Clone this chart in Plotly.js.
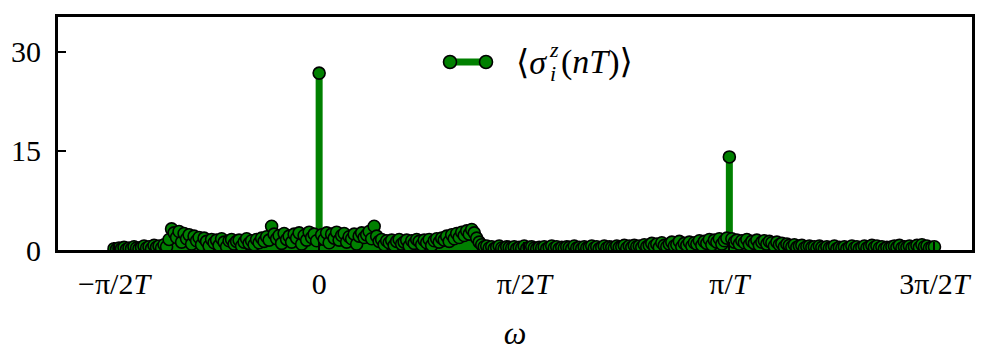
<!DOCTYPE html>
<html>
<head>
<meta charset="utf-8">
<script src="https://cdn.plot.ly/plotly-3.0.1.min.js"></script>
<style>
  html, body { margin: 0; padding: 0; background: #fff; }
  #chart { width: 984px; height: 351px; }
</style>
</head>
<body>
<div id="chart"></div>
<script>
// Fourier spectrum of the stroboscopic magnetisation, sampled on the
// discrete frequency grid omega in [-pi/2T, 3pi/2T] (T = 1).
const omegaMin = -Math.PI / 2;
const omegaMax = 3 * Math.PI / 2;

// Spectral amplitude at each grid frequency (329 bins).
const amplitude = [
  0.2,0.1,0.3,0.2,0.4,0.1,0.3,0.2,0.5,0.3,
  0.2,0.4,0.6,0.3,0.5,0.2,0.7,0.4,0.6,0.3,
  0.8,0.5,1.6,3.2,2.6,1.9,2.8,1.2,2.5,1.7,
  2.3,0.9,2.1,1.4,1.9,0.8,1.8,1.3,0.6,1.6,
  1.1,1.5,0.7,1.7,1.2,0.5,1.4,1.6,0.9,1.3,
  1.5,0.6,1.2,1.7,1.0,1.4,0.8,1.6,1.1,1.8,
  1.3,2.0,1.5,3.6,2.4,1.7,2.2,1.0,2.5,1.6,
  2.1,1.2,2.4,1.8,2.6,0.9,2.2,1.5,2.7,1.9,
  2.4,1.4,26.8,
  2.3,1.6,2.6,1.1,2.4,1.8,2.7,
  1.5,2.2,2.5,1.2,2.0,1.7,2.4,0.9,2.1,2.6,
  1.9,2.3,2.8,1.7,3.6,2.1,1.3,1.6,0.8,1.4,
  1.1,1.5,0.7,1.3,1.6,0.9,1.2,1.5,0.6,1.4,
  1.0,1.6,1.3,0.8,1.5,1.1,1.6,0.7,1.4,1.7,
  1.2,1.8,1.5,2.1,1.3,2.3,1.7,2.5,1.9,2.7,
  2.2,2.9,2.4,3.1,2.6,1.8,1.2,0.8,0.5,0.6,
  0.3,0.5,0.2,0.4,0.6,0.3,0.2,0.5,0.4,0.3,
  0.5,0.2,0.4,0.3,0.6,0.2,0.4,0.5,0.3,0.2,
  0.4,0.3,0.5,0.2,0.4,0.6,0.3,0.5,0.2,0.4,
  0.3,0.5,0.4,0.2,0.6,0.3,0.4,0.2,0.5,0.3,
  0.4,0.6,0.3,0.5,0.2,0.4,0.6,0.3,0.5,0.4,
  0.3,0.6,0.4,0.5,0.7,0.3,0.6,0.4,0.7,0.5,
  0.6,0.4,0.8,0.5,0.7,1.0,0.6,0.9,0.4,1.1,
  0.7,0.5,0.9,1.2,0.6,0.8,1.3,0.5,1.0,0.7,
  1.2,0.6,1.1,0.9,1.4,0.7,1.3,1.0,1.6,0.8,
  1.5,1.2,1.7,0.9,1.4,1.8,
  14.1,
  1.7,1.2,1.5,
  0.9,1.4,1.1,1.6,0.8,1.3,1.0,1.5,0.7,1.2,
  1.4,0.9,1.3,1.1,0.6,1.2,0.8,1.0,0.5,0.9,
  0.7,0.5,0.8,0.4,0.6,0.7,0.3,0.5,0.6,0.4,
  0.5,0.3,0.6,0.4,0.2,0.5,0.3,0.4,0.6,0.2,
  0.4,0.3,0.5,0.2,0.4,0.6,0.3,0.5,0.2,0.4,
  0.6,0.3,0.5,0.7,0.4,0.6,0.3,0.5,0.2,0.4,
  0.3,0.5,0.6,0.4,0.7,0.3,0.5,0.4,0.6,0.3,
  0.5,0.7,0.4,0.8,0.5,0.6,0.3,0.4,0.5
];

const xTickVals = [-Math.PI / 2, 0, Math.PI / 2, Math.PI, 3 * Math.PI / 2];
const xTickText = ['\u2212\u03c0/2<i>T</i>', '0', '\u03c0/2<i>T</i>', '\u03c0/<i>T</i>', '3\u03c0/2<i>T</i>'];
const yTickVals = [0, 15, 30];
// legend label  <sigma_i^z(nT)>, set in pieces so the indices stack
const labelHead = '\u27e8<i>\u03c3</i>';
const labelSup = '<i>z</i>';
const labelSub = '<i>i</i>';
const labelTail = '(<i>nT</i>)\u27e9';

// frequency grid
const step = (omegaMax - omegaMin) / (amplitude.length - 1);
const omega = amplitude.map((_, k) => omegaMin + k * step);

// stems: vertical segments from the baseline to each amplitude
const stemX = [], stemY = [];
omega.forEach((w, k) => { stemX.push(w, w, null); stemY.push(0, amplitude[k], null); });

const green = '#008000';
const serif = '"Liberation Serif", "DejaVu Serif", serif';

const traces = [
  {
    x: stemX, y: stemY, type: 'scatter', mode: 'lines',
    line: { color: green, width: 7 }, hoverinfo: 'skip', showlegend: false
  },
  {
    x: omega, y: amplitude, type: 'scatter', mode: 'markers',
    marker: { color: green, size: 12, line: { color: '#000', width: 1.6 } },
    showlegend: false
  }
];

// pixel helpers for the hand-built legend key
const plotL = 58, plotR = 972, plotT = 17, plotB = 250;
const px = v => (v - plotL) / (plotR - plotL);
const py = v => (plotB - v) / (plotB - plotT);
const keyY = py(62);

function label(text, x, y, size) {
  return { xref: 'paper', yref: 'paper', x: px(x), y: py(y), xanchor: 'left', yanchor: 'middle',
           text: text, showarrow: false, font: { family: serif, size: size } };
}

const layout = {
  width: 984, height: 351,
  margin: { l: plotL, r: 984 - plotR, t: plotT, b: 351 - plotB },
  paper_bgcolor: '#fff', plot_bgcolor: '#fff',
  font: { family: serif, color: '#000', size: 30 },
  showlegend: false,
  xaxis: {
    range: [-2, 5], tickvals: xTickVals, ticktext: xTickText,
    ticks: 'inside', ticklen: 8, tickwidth: 2, tickcolor: '#000',
    showline: true, mirror: true, linewidth: 3, linecolor: '#000',
    showgrid: false, zeroline: false,
    tickfont: { family: serif, size: 30 }, ticklabelstandoff: 5,
    title: { text: '<i>\u03c9</i>', font: { family: serif, size: 32 }, standoff: 23 }
  },
  yaxis: {
    range: [0, 35.3], tickvals: yTickVals,
    ticks: 'inside', ticklen: 8, tickwidth: 2, tickcolor: '#000',
    showline: true, mirror: true, linewidth: 3, linecolor: '#000',
    showgrid: false, zeroline: false,
    tickfont: { family: serif, size: 30 }, ticklabelstandoff: 8
  },
  shapes: [
    { type: 'line', xref: 'paper', yref: 'paper', xsizemode: 'pixel', ysizemode: 'pixel',
      xanchor: px(450), yanchor: keyY, x0: 0, x1: 36, y0: 0, y1: 0,
      line: { color: green, width: 7 } },
    { type: 'circle', xref: 'paper', yref: 'paper', xsizemode: 'pixel', ysizemode: 'pixel',
      xanchor: px(450), yanchor: keyY, x0: -6.5, x1: 6.5, y0: -6.5, y1: 6.5,
      fillcolor: green, line: { color: '#000', width: 1.6 } },
    { type: 'circle', xref: 'paper', yref: 'paper', xsizemode: 'pixel', ysizemode: 'pixel',
      xanchor: px(486), yanchor: keyY, x0: -6.5, x1: 6.5, y0: -6.5, y1: 6.5,
      fillcolor: green, line: { color: '#000', width: 1.6 } }
  ],
  annotations: [
    label(labelHead, 514, 62, 34),
    label(labelSup, 547, 50, 22),
    label(labelSub, 548, 73, 22),
    label(labelTail, 559, 62, 34)
  ]
};

Plotly.newPlot('chart', traces, layout, { staticPlot: true, displayModeBar: false });
</script>
</body>
</html>
